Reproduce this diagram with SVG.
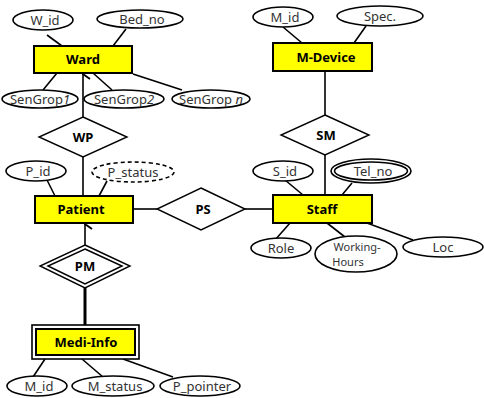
<svg xmlns="http://www.w3.org/2000/svg" width="484" height="398" viewBox="0 0 484 398">
<defs>
<marker id="arr" markerWidth="12" markerHeight="12" refX="6" refY="1" orient="auto-start-reverse" markerUnits="userSpaceOnUse" viewBox="0 0 12 12">
<polyline points="1,8 6,1 11,8" fill="none" stroke="#000" stroke-width="1.8"/>
</marker>
</defs>
<style>
.ent{fill:#ffff00;stroke:#000;stroke-width:2}
.att{fill:#fff;stroke:#000;stroke-width:1.6}
.rel{fill:#fff;stroke:#000;stroke-width:1.4}
.ln{stroke:#000;stroke-width:1.6;fill:none}
.et{font-family:"Noto Sans","Liberation Sans",sans-serif;font-size:13px;font-weight:bold;fill:#000;text-anchor:middle}
.at{font-family:"Noto Sans","Liberation Sans",sans-serif;font-size:13px;fill:#333;text-anchor:middle}
.it{font-style:italic}
</style>
<rect width="484" height="398" fill="#fff"/>
<g id="connectors">
<line class="ln" x1="47" y1="35" x2="62" y2="46"/>
<line class="ln" x1="126" y1="29" x2="113" y2="46"/>
<line class="ln" x1="57" y1="73" x2="43" y2="90"/>
<line class="ln" x1="93" y1="73" x2="112" y2="90"/>
<line class="ln" x1="133" y1="74" x2="182" y2="90"/>
<line class="ln" x1="83" y1="117" x2="83" y2="74" marker-end="url(#arr)"/>
<line class="ln" x1="83" y1="157" x2="83" y2="196"/>
<line class="ln" x1="47" y1="180" x2="55" y2="196"/>
<line class="ln" x1="107" y1="181" x2="99" y2="196"/>
<line class="ln" x1="133" y1="209" x2="157" y2="209"/>
<line class="ln" x1="245" y1="209" x2="273" y2="209"/>
<line class="ln" x1="85" y1="245" x2="85" y2="224" marker-end="url(#arr)"/>
<line x1="85" y1="288" x2="85" y2="325" stroke="#000" stroke-width="3"/>
<line class="ln" x1="45" y1="359" x2="33" y2="377"/>
<line class="ln" x1="82" y1="359" x2="103" y2="377"/>
<line class="ln" x1="123" y1="359" x2="173" y2="377"/>
<line class="ln" x1="283" y1="27" x2="302" y2="43"/>
<line class="ln" x1="366" y1="26" x2="354" y2="43"/>
<line class="ln" x1="325" y1="71" x2="325" y2="115"/>
<line class="ln" x1="325" y1="155" x2="325" y2="195"/>
<line class="ln" x1="285" y1="180" x2="303" y2="195"/>
<line class="ln" x1="352" y1="183" x2="342" y2="195"/>
<line class="ln" x1="290" y1="223" x2="275" y2="240"/>
<line class="ln" x1="327" y1="223" x2="345" y2="237"/>
<line class="ln" x1="367" y1="223" x2="413" y2="240"/>
</g>
<g id="ward">
<rect class="ent" x="34" y="46" width="98" height="27"/>
<text class="et" x="83" y="64">Ward</text>
</g>
<g id="w_id"><ellipse class="att" cx="43" cy="20" rx="30" ry="10"/><text class="at" x="45" y="25">W_id</text></g>
<g id="bed_no"><ellipse class="att" cx="140" cy="19" rx="43" ry="9"/><text class="at" x="142" y="24">Bed_no</text></g>
<g id="sengrop1"><ellipse class="att" cx="40" cy="99" rx="38" ry="9"/><text class="at" x="40" y="104">SenGrop<tspan class="it">1</tspan></text></g>
<g id="sengrop2"><ellipse class="att" cx="124" cy="99" rx="40" ry="9"/><text class="at" x="124" y="104">SenGrop<tspan class="it">2</tspan></text></g>
<g id="sengropn"><ellipse class="att" cx="211" cy="99" rx="39" ry="9"/><text class="at" x="211" y="104">SenGrop <tspan class="it">n</tspan></text></g>
<g id="wp"><polygon class="rel" points="83,117 127,137 83,157 39,137"/><text class="et" x="83" y="142">WP</text></g>
<g id="p_id"><ellipse class="att" cx="36" cy="171" rx="30" ry="10"/><text class="at" x="38" y="176">P_id</text></g>
<g id="p_status"><ellipse class="att" cx="133" cy="172" rx="41" ry="10" stroke-dasharray="4,3"/><text class="at" x="133" y="177">P_status</text></g>
<g id="patient">
<rect class="ent" x="35" y="196" width="98" height="27"/>
<text class="et" x="81" y="214">Patient</text>
</g>
<g id="ps"><polygon class="rel" points="201,188 245,209 201,230 157,209"/><text class="et" x="203" y="214">PS</text></g>
<g id="pm">
<polygon class="rel" points="85,245 130,266 85,288 40,266" stroke-width="1.5"/>
<polygon points="85,249 122,266 85,284 48,266" fill="none" stroke="#000" stroke-width="1.5"/>
<text class="et" x="85" y="271">PM</text>
</g>
<g id="medi-info">
<rect x="32" y="325" width="107" height="34" fill="#fff" stroke="#000" stroke-width="1.6"/>
<rect class="ent" x="36" y="329" width="99" height="26" stroke-width="1.6"/>
<text class="et" x="86" y="347">Medi-Info</text>
</g>
<g id="m_id2"><ellipse class="att" cx="37" cy="386" rx="30" ry="10"/><text class="at" x="39" y="391">M_id</text></g>
<g id="m_status"><ellipse class="att" cx="113" cy="386" rx="41" ry="10"/><text class="at" x="115" y="391">M_status</text></g>
<g id="p_pointer"><ellipse class="att" cx="200" cy="386" rx="40" ry="10"/><text class="at" x="202" y="391">P_pointer</text></g>
<g id="m-device">
<rect class="ent" x="273" y="43" width="99" height="28"/>
<text class="et" x="326" y="62">M-Device</text>
</g>
<g id="m_id"><ellipse class="att" cx="283" cy="17" rx="30" ry="10"/><text class="at" x="285" y="22">M_id</text></g>
<g id="spec"><ellipse class="att" cx="380" cy="16" rx="43" ry="10"/><text class="at" x="380" y="21">Spec.</text></g>
<g id="sm"><polygon class="rel" points="325,115 369,135 325,155 281,135"/><text class="et" x="326" y="140">SM</text></g>
<g id="staff">
<rect class="ent" x="273" y="195" width="99" height="28"/>
<text class="et" x="322" y="214">Staff</text>
</g>
<g id="s_id"><ellipse class="att" cx="283" cy="171" rx="30" ry="10"/><text class="at" x="285" y="176">S_id</text></g>
<g id="tel_no">
<ellipse class="att" cx="371" cy="171" rx="40" ry="12" stroke-width="1.4"/>
<ellipse cx="371" cy="171" rx="36.5" ry="9" fill="none" stroke="#000" stroke-width="1.6"/>
<text class="at" x="373" y="176">Tel_no</text>
</g>
<g id="role"><ellipse class="att" cx="281" cy="248" rx="30" ry="10"/><text class="at" x="281" y="253">Role</text></g>
<g id="working-hours"><ellipse class="att" cx="356" cy="254" rx="41" ry="18"/><text class="at" x="357" y="251" style="font-size:11px">Working-</text><text class="at" x="348" y="266" style="font-size:11px">Hours</text></g>
<g id="loc"><ellipse class="att" cx="443" cy="247" rx="40" ry="10"/><text class="at" x="443" y="252">Loc</text></g>
</svg>
